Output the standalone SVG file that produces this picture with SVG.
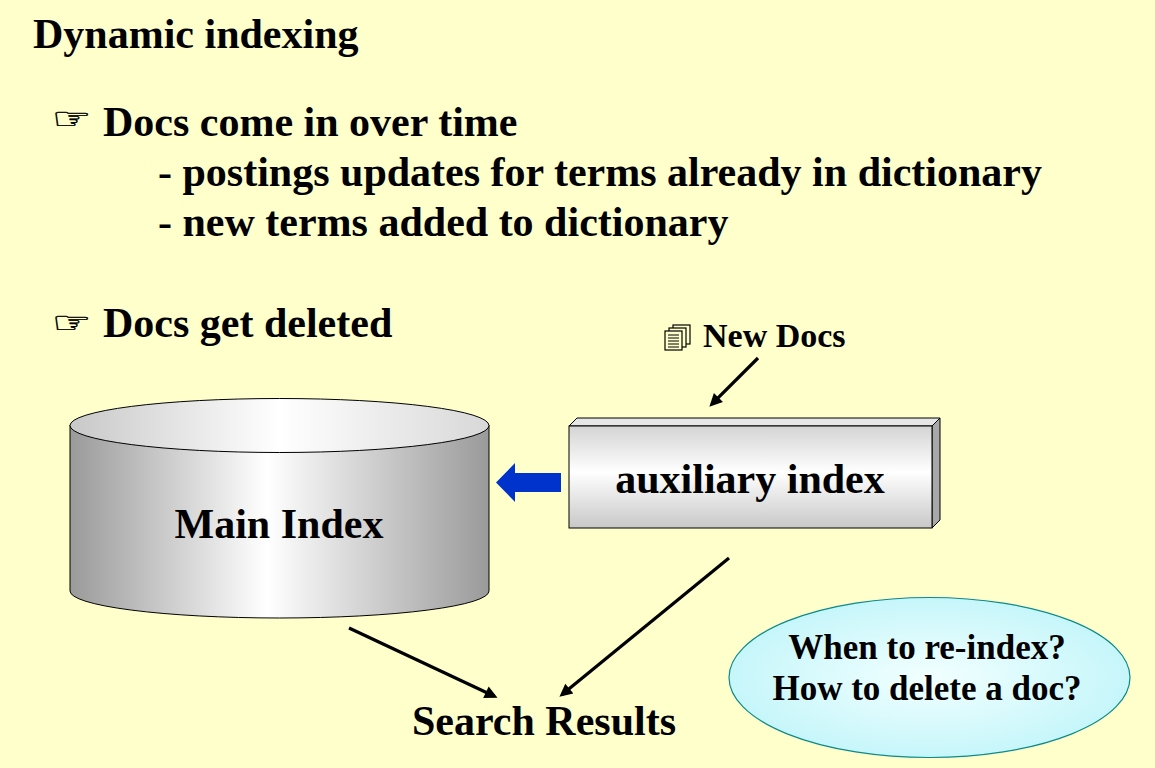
<svg xmlns="http://www.w3.org/2000/svg" width="1155" height="768" viewBox="0 0 1155 768">
<defs>
<style>
.t{font-family:"Liberation Serif","Times New Roman",serif;font-weight:bold;fill:#000}
.t42{font-size:42px}
.hand{font-family:"DejaVu Sans",sans-serif;font-size:30px;fill:#000;stroke:#000;stroke-width:0.4}
.conn{stroke:#000;stroke-width:3.2;fill:none;marker-end:url(#ah)}
</style>
<marker id="ah" viewBox="0 0 10 10" refX="7.3" refY="5" markerWidth="5" markerHeight="4" orient="auto" markerUnits="strokeWidth">
<path d="M0,0 L10,5 L0,10 Z" fill="#000"/>
</marker>
<linearGradient id="cylBody" x1="0" y1="0" x2="1" y2="0">
<stop offset="0" stop-color="#9a9a9a"/>
<stop offset="0.47" stop-color="#ffffff"/>
<stop offset="1" stop-color="#9a9a9a"/>
</linearGradient>
<linearGradient id="cylTop" x1="0" y1="0" x2="1" y2="0">
<stop offset="0" stop-color="#c8c8c8"/>
<stop offset="0.5" stop-color="#ffffff"/>
<stop offset="1" stop-color="#d8d8d8"/>
</linearGradient>
<linearGradient id="boxFront" x1="0" y1="0" x2="0" y2="1">
<stop offset="0" stop-color="#d4d4d4"/>
<stop offset="0.45" stop-color="#ffffff"/>
<stop offset="1" stop-color="#c8c8c8"/>
</linearGradient>
<radialGradient id="ovalFill" cx="0.5" cy="0.5" r="0.5">
<stop offset="0" stop-color="#f2ffff"/>
<stop offset="1" stop-color="#c6f6fa"/>
</radialGradient>
</defs>
<rect x="0" y="0" width="1155" height="768" fill="#FFFFCC"/>

<g id="title">
<text class="t t42" x="33" y="48">Dynamic indexing</text>
</g>

<g id="bullets">
<text class="hand" x="52" y="129" textLength="40" lengthAdjust="spacingAndGlyphs">☞</text>
<text class="t t42" x="103" y="136">Docs come in over time</text>
<text class="t t42" x="158" y="186">- postings updates for terms already in dictionary</text>
<text class="t t42" x="158" y="236">- new terms added to dictionary</text>
<text class="hand" x="52" y="333" textLength="40" lengthAdjust="spacingAndGlyphs">☞</text>
<text class="t t42" x="103" y="337">Docs get deleted</text>
</g>

<g id="main-index">
<path d="M70,425 L70,591 A209.5,27 0 0 0 489,591 L489,425 Z" fill="url(#cylBody)" stroke="#000" stroke-width="1"/>
<ellipse cx="279.5" cy="425.5" rx="209.5" ry="27" fill="url(#cylTop)" stroke="#000" stroke-width="1"/>
<text class="t t42" x="279" y="538" text-anchor="middle">Main Index</text>
</g>

<g id="auxiliary-index">
<polygon points="569,426 577,418 940,418 932,426" fill="#e6e6e6" stroke="#000" stroke-width="1"/>
<polygon points="932,426 940,418 940,520 932,528" fill="#a8a8a8" stroke="#000" stroke-width="1"/>
<rect x="569" y="426" width="363" height="102" fill="url(#boxFront)" stroke="#000" stroke-width="1"/>
<text class="t t42" x="750" y="493" text-anchor="middle">auxiliary index</text>
</g>

<g id="new-docs">
<rect x="673" y="325" width="17" height="19" fill="#FFFFCC" stroke="#000" stroke-width="1.2"/>
<rect x="669" y="328" width="17" height="19" fill="#FFFFCC" stroke="#000" stroke-width="1.2"/>
<rect x="665" y="331" width="17" height="19" fill="#FFFFCC" stroke="#000" stroke-width="1.2"/>
<path d="M668,335 H679 M668,338 H679 M668,341 H679 M668,344 H679 M668,347 H679" stroke="#000" stroke-width="1"/>
<text class="t" font-size="34" x="703" y="347">New Docs</text>
</g>

<g id="search-results">
<text class="t t42" x="544" y="735" text-anchor="middle">Search Results</text>
</g>

<g id="question">
<ellipse cx="929.5" cy="677.5" rx="200.5" ry="80" fill="url(#ovalFill)" stroke="#0a8a8a" stroke-width="1.2"/>
<text class="t" font-size="35" x="927" y="659" text-anchor="middle">When to re-index?</text>
<text class="t" font-size="35" x="927" y="700" text-anchor="middle">How to delete a doc?</text>
</g>

<g id="connectors">
<line class="conn" x1="758" y1="358" x2="711.8" y2="404.2"/>
<line class="conn" x1="349" y1="628" x2="494.4" y2="696.3"/>
<line class="conn" x1="729" y1="558" x2="562.1" y2="694.5"/>
<polygon points="496,482.5 515,463 515,473 561,473 561,492 515,492 515,502" fill="#0033CC"/>
</g>
</svg>
